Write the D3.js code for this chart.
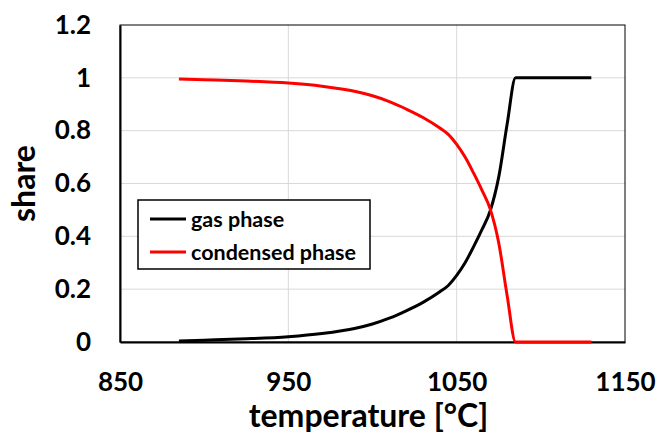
<!DOCTYPE html>
<html>
<head>
<meta charset="utf-8">
<script src="https://cdn.jsdelivr.net/npm/d3@7"></script>
<style>
  html, body { margin: 0; padding: 0; background: #fff; }
  svg { display: block; }
  text { font-family: Lato, "Open Sans", sans-serif; font-weight: bold; fill: #000; }
</style>
</head>
<body>
<svg id="chart" width="657" height="435"></svg>
<script>
// Phase shares vs. temperature
const temperature = [885, 900, 925, 950, 970, 990, 1000, 1010, 1020, 1030, 1040, 1045, 1050, 1055, 1060, 1065, 1070, 1075, 1080, 1085, 1130];
const gasPhase       = [0.004, 0.007, 0.012, 0.020, 0.032, 0.052, 0.068, 0.090, 0.118, 0.150, 0.190, 0.214, 0.252, 0.300, 0.360, 0.425, 0.498, 0.625, 0.825, 1.000, 1.000];
const condensedPhase = [0.996, 0.993, 0.988, 0.980, 0.968, 0.948, 0.932, 0.910, 0.882, 0.850, 0.810, 0.786, 0.748, 0.700, 0.640, 0.575, 0.502, 0.375, 0.175, 0.000, 0.000];

const xTicks = [850, 950, 1050, 1150];
const yTicks = [0, 0.2, 0.4, 0.6, 0.8, 1, 1.2];
const seriesNames = ["gas phase", "condensed phase"];
const seriesColors = ["#000000", "#ff0000"];

const svg = d3.select("#chart");
const plot = { left: 120, right: 625, top: 25, bottom: 342 };

const x = d3.scaleLinear().domain([850, 1150]).range([plot.left, plot.right]);
const y = d3.scaleLinear().domain([0, 1.2]).range([plot.bottom, plot.top]);

// Gridlines
const grid = svg.append("g");
grid.selectAll(".hg").data(yTicks.filter(d => d > 0 && d < 1.2)).join("line")
  .attr("x1", plot.left).attr("x2", plot.right)
  .attr("y1", d => y(d)).attr("y2", d => y(d))
  .attr("stroke", "#d9d9d9").attr("stroke-width", 1);
grid.selectAll(".vg").data(xTicks.filter(d => d > 850 && d < 1150)).join("line")
  .attr("x1", d => x(d)).attr("x2", d => x(d))
  .attr("y1", plot.top).attr("y2", plot.bottom)
  .attr("stroke", "#d9d9d9").attr("stroke-width", 1);

// Plot frame
svg.append("rect")
  .attr("x", plot.left).attr("y", plot.top)
  .attr("width", plot.right - plot.left).attr("height", plot.bottom - plot.top)
  .attr("fill", "none").attr("stroke", "#000").attr("stroke-width", 1);

// Axes
const fmt = d => String(+d.toFixed(1));
const yAxis = svg.append("g")
  .attr("transform", `translate(${plot.left},0)`)
  .call(d3.axisLeft(y).tickValues(yTicks).tickFormat(fmt).tickSize(0).tickPadding(29));
const xAxis = svg.append("g")
  .attr("transform", `translate(0,${plot.bottom})`)
  .call(d3.axisBottom(x).tickValues(xTicks).tickFormat(fmt).tickSize(0).tickPadding(31));
[xAxis, yAxis].forEach(g => {
  g.select(".domain").attr("stroke", "#000").attr("stroke-width", 2);
  g.selectAll("text").attr("font-size", 26).attr("font-family", null);
});

// Series lines
const series = [gasPhase, condensedPhase];
const line = d3.line().curve(d3.curveMonotoneX).x((d, i) => x(temperature[i])).y(d => y(d));
svg.append("g").selectAll("path").data(series).join("path")
  .attr("d", line)
  .attr("fill", "none")
  .attr("stroke", (d, i) => seriesColors[i])
  .attr("stroke-width", 3)
  .attr("stroke-linejoin", "round");

// Axis titles
svg.append("text")
  .attr("x", (plot.left + plot.right) / 2 - 4).attr("y", 427)
  .attr("text-anchor", "middle").attr("font-size", 32)
  .text("temperature [°C]");
svg.append("text")
  .attr("transform", `translate(35,${(plot.top + plot.bottom) / 2}) rotate(-90)`)
  .attr("text-anchor", "middle").attr("font-size", 32)
  .text("share");

// Legend
const legend = svg.append("g");
legend.append("rect")
  .attr("x", 138).attr("y", 200).attr("width", 232).attr("height", 69)
  .attr("fill", "#fff").attr("stroke", "#000").attr("stroke-width", 1.5);
const rows = legend.selectAll(".row").data(seriesNames).join("g")
  .attr("transform", (d, i) => `translate(0,${219 + i * 33})`);
rows.append("line")
  .attr("x1", 150).attr("x2", 186).attr("y1", 0).attr("y2", 0)
  .attr("stroke", (d, i) => seriesColors[i]).attr("stroke-width", 3);
rows.append("text")
  .attr("x", 191).attr("dy", "0.35em").attr("font-size", 21.5)
  .text(d => d);
</script>
</body>
</html>
